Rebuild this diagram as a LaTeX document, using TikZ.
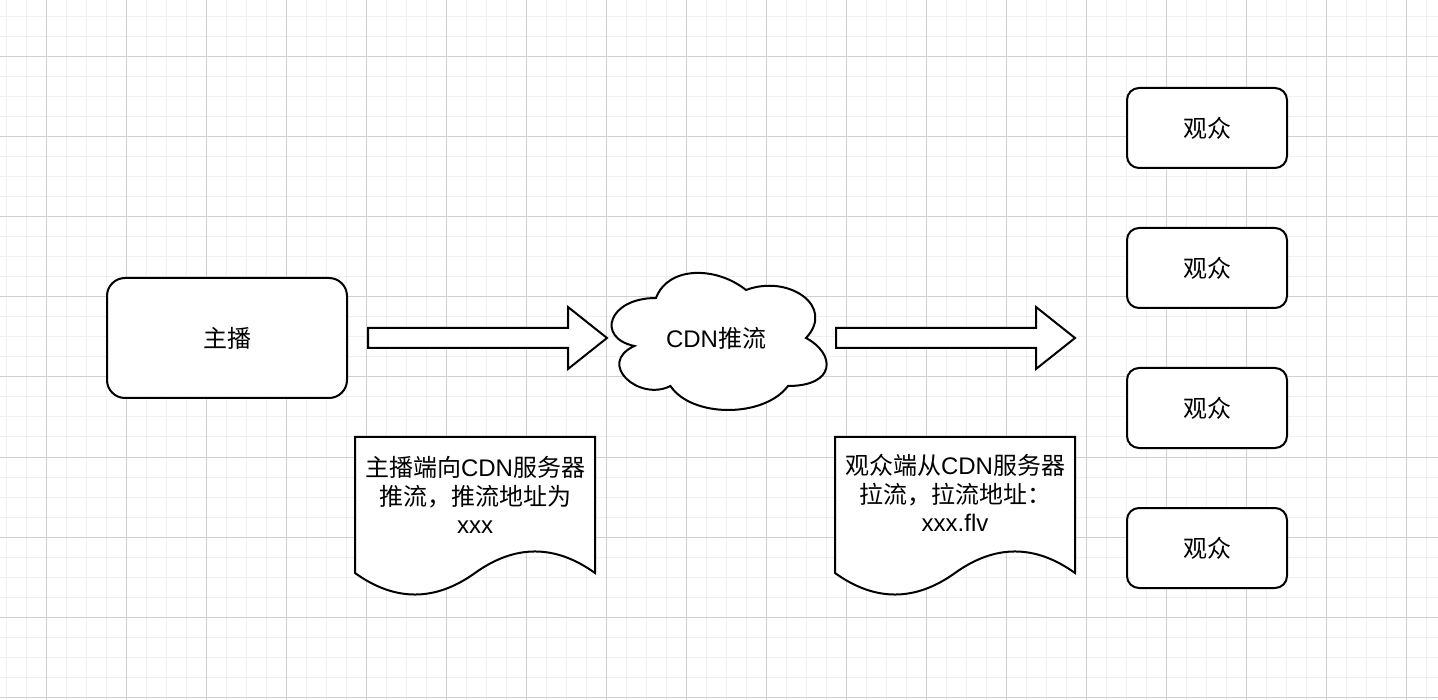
\documentclass[tikz,border=0pt]{standalone}
\usepackage{fontspec}
\setmainfont{Liberation Sans}
\newfontfamily\cjk{Noto Sans CJK SC}
\newcommand\zh[1]{{\cjk #1}}
\definecolor{minorline}{HTML}{F0F0F0}
\definecolor{majorline}{HTML}{D0D0D0}
\newcommand\fatarrow[1]{\draw[blockarrow,shift={(#1)}] (0,-10) -- (200,-10) -- (200,-31) -- (239,0) -- (200,31) -- (200,10) -- (0,10) -- cycle;}
\newcommand\docshape[1]{\draw[blockarrow,shift={(#1)}] (0,0) -- (240,0) -- (240,136) .. controls (200,107.3) and (160,107.3) .. (120,136) .. controls (80,164.7) and (40,164.7) .. (0,136) -- cycle;}
\begin{document}
\begin{tikzpicture}[x=1pt,y=-1pt,
  minorgrid/.style={minorline,line width=1pt},
  majorgrid/.style={majorline,line width=1pt},
  blockarrow/.style={draw=black,fill=white,line width=2pt,line join=miter},
  roundbox/.style={draw=black,fill=white,line width=2pt,rounded corners=#1},
  label/.style={font=\fontsize{24}{28.8}\selectfont,align=center,inner sep=0pt}]
\useasboundingbox (0,0) rectangle (1438,700);
\fill[white] (0,0) rectangle (1438,700);
\foreach \i in {0,...,71} \draw[minorgrid] ({6.5+20*\i},0) -- ({6.5+20*\i},700);
\foreach \j in {0,...,34} \draw[minorgrid] (0,{17+20*\j}) -- (1438,{17+20*\j});
\foreach \i in {0,...,17} \draw[majorgrid] ({46.5+80*\i},0) -- ({46.5+80*\i},700);
\foreach \j in {0,...,8} \draw[majorgrid] (0,{57+80*\j}) -- (1438,{57+80*\j});

\node[roundbox=18pt,minimum width=240pt,minimum height=120pt,label] (anchor) at (227,338) {\zh{主播}};

\coordinate (pushtail) at (368,338);
\fatarrow{pushtail}
\coordinate (pulltail) at (836,338);
\fatarrow{pulltail}

\begin{scope}[shift={(596,258)}]
\draw[blockarrow] (60,40) .. controls (12,40) and (0,80) .. (38.4,88)
  .. controls (0,105.6) and (43.2,144) .. (74.4,128)
  .. controls (96,160) and (168,160) .. (192,128)
  .. controls (240,128) and (240,96) .. (210,80)
  .. controls (240,48) and (192,16) .. (150,32)
  .. controls (120,8) and (72,8) .. (60,40) -- cycle;
\end{scope}
\node[label] (cdn) at (716,338) {CDN\zh{推流}};

\coordinate (pushdoc) at (355,437);
\docshape{pushdoc}
\node[label] (pushnote) at (475,495) {\zh{主播端向}CDN\zh{服务器}\\\zh{推流，推流地址为}\\xxx};
\coordinate (pulldoc) at (835,437);
\docshape{pulldoc}
\node[label] (pullnote) at (955,493) {\zh{观众端从}CDN\zh{服务器}\\\zh{拉流，拉流地址：}\\xxx.flv};

\foreach \y [count=\k] in {128,268,408,548}
  \node[roundbox=12pt,minimum width=160pt,minimum height=80pt,label] (viewer\k) at (1207,\y) {\zh{观众}};
\end{tikzpicture}
\end{document}
